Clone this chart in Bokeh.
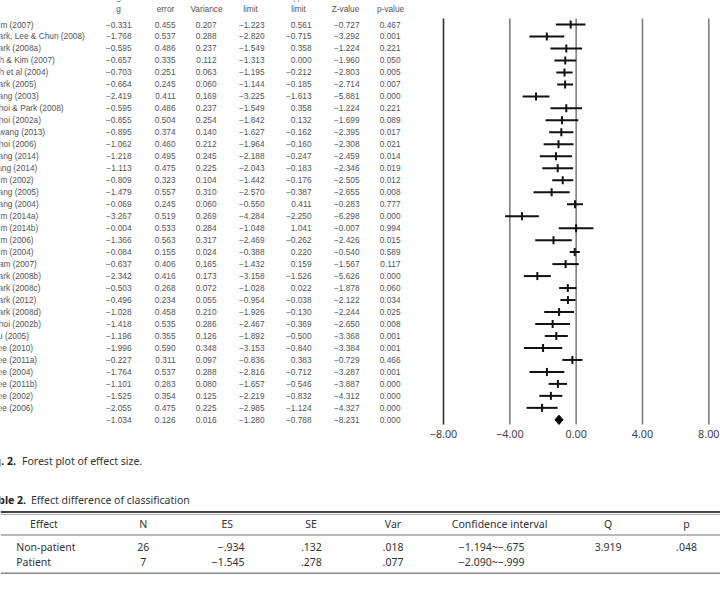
from bokeh.plotting import figure
from bokeh.models import Range1d
from bokeh.core.properties import value
from bokeh.embed import file_html
from bokeh.resources import INLINE

# ---------------- data ----------------
studies = ["Kim (2007)", "Park, Lee & Chun (2008)", "Park (2008a)", "Oh & Kim (2007)",
           "Oh et al (2004)", "Park (2005)", "Kang (2003)", "Choi & Park (2008)",
           "Choi (2002a)", "Hwang (2013)", "Choi (2006)", "Kang (2014)", "Jang (2014)",
           "Kim (2002)", "Kang (2005)", "Kang (2004)", "Kim (2014a)", "Kim (2014b)",
           "Kim (2006)", "Kim (2004)", "Nam (2007)", "Park (2008b)", "Park (2008c)",
           "Park (2012)", "Park (2008d)", "Choi (2002b)", "Yu (2005)", "Lee (2010)",
           "Lee (2011a)", "Lee (2004)", "Lee (2011b)", "Lee (2002)", "Lee (2006)"]
hedges_g = [-0.331, -1.768, -0.595, -0.657, -0.703, -0.664, -2.419, -0.595, -0.855, -0.895,
            -1.062, -1.218, -1.113, -0.809, -1.479, -0.069, -3.267, -0.004, -1.366, -0.084,
            -0.637, -2.342, -0.503, -0.496, -1.028, -1.418, -1.196, -1.996, -0.227, -1.764,
            -1.101, -1.525, -2.055]
std_err = [0.455, 0.537, 0.486, 0.335, 0.251, 0.245, 0.411, 0.486, 0.504, 0.374,
           0.460, 0.495, 0.475, 0.323, 0.557, 0.245, 0.519, 0.533, 0.563, 0.155,
           0.406, 0.416, 0.268, 0.234, 0.458, 0.535, 0.355, 0.590, 0.311, 0.537,
           0.283, 0.354, 0.475]
variance = [0.207, 0.288, 0.237, 0.112, 0.063, 0.060, 0.169, 0.237, 0.254, 0.140,
            0.212, 0.245, 0.225, 0.104, 0.310, 0.060, 0.269, 0.284, 0.317, 0.024,
            0.165, 0.173, 0.072, 0.055, 0.210, 0.286, 0.126, 0.348, 0.097, 0.288,
            0.080, 0.125, 0.225]
lower = [-1.223, -2.820, -1.549, -1.313, -1.195, -1.144, -3.225, -1.549, -1.842, -1.627,
         -1.964, -2.188, -2.043, -1.442, -2.570, -0.550, -4.284, -1.048, -2.469, -0.388,
         -1.432, -3.158, -1.028, -0.954, -1.926, -2.467, -1.892, -3.153, -0.836, -2.816,
         -1.657, -2.219, -2.985]
upper = [0.561, -0.715, 0.358, 0.000, -0.212, -0.185, -1.613, 0.358, 0.132, -0.162,
         -0.160, -0.247, -0.183, -0.176, -0.387, 0.411, -2.250, 1.041, -0.262, 0.220,
         0.159, -1.526, 0.022, -0.038, -0.130, -0.369, -0.500, -0.840, 0.383, -0.712,
         -0.546, -0.832, -1.124]
z_value = [-0.727, -3.292, -1.224, -1.960, -2.803, -2.714, -5.881, -1.224, -1.699, -2.395,
           -2.308, -2.459, -2.346, -2.505, -2.655, -0.283, -6.298, -0.007, -2.426, -0.540,
           -1.567, -5.626, -1.878, -2.122, -2.244, -2.650, -3.368, -3.384, -0.729, -3.287,
           -3.887, -4.312, -4.327]
p_value = [0.467, 0.001, 0.221, 0.050, 0.005, 0.007, 0.000, 0.221, 0.089, 0.017,
           0.021, 0.014, 0.019, 0.012, 0.008, 0.777, 0.000, 0.994, 0.015, 0.589,
           0.117, 0.000, 0.060, 0.034, 0.025, 0.008, 0.001, 0.001, 0.466, 0.001,
           0.000, 0.000, 0.000]

summary_g = -1.034
summary_se = 0.126
summary_var = 0.016
summary_lower = -1.280
summary_upper = -0.788
summary_z = -8.231
summary_p = 0.000

col_headers_top = ["Hedges's", "Standard", "", "Lower", "Upper", "", ""]
col_headers = ["g", "error", "Variance", "limit", "limit", "Z-value", "p-value"]

axis_ticks = [-8, -4, 0, 4, 8]
axis_labels = ["\u22128.00", "\u22124.00", "0.00", "4.00", "8.00"]

fig_caption_num = "Fig. 2."
fig_caption = "Forest plot of effect size."
tab_caption_num = "Table 2."
tab_caption = "Effect difference of classification"

t2_headers = ["Effect", "N", "ES", "SE", "Var", "Confidence  interval", "Q", "p"]
t2_effect = ["Non-patient", "Patient"]
t2_n = [26, 7]
t2_es = [-0.934, -1.545]
t2_se = [0.132, 0.278]
t2_var = [0.018, 0.077]
t2_ci_low = [-1.194, -2.090]
t2_ci_high = [-0.675, -0.999]
t2_q = 3.919
t2_p = 0.048

# ---------------- helpers ----------------
MINUS = "\u2212"


def f3(v):
    return f"{v:.3f}".replace("-", MINUS)


def fshort(v):
    s = f"{abs(v):.3f}"
    if s.startswith("0"):
        s = s[1:]
    return (MINUS if v < 0 else "") + s


# ---------------- figure ----------------
W, H = 720, 595
p = figure(width=W, height=H, x_range=Range1d(0, W), y_range=Range1d(H, 0),
           x_axis_type=None, y_axis_type=None, output_backend="svg",
           toolbar_location=None, min_border=0, outline_line_color=None,
           background_fill_color="white", border_fill_color="white")
p.grid.visible = False

# effect-size scale: -8 at px 443, +8 at px 708.3
px_per_unit = (708.3 - 443.0) / 16.0
es_start = -8 - 443.0 / px_per_unit
p.extra_x_ranges = {"es": Range1d(es_start, es_start + W / px_per_unit)}

row0, row_step = 24.0, 11.98
n = len(studies)
ys = [row0 + i * row_step for i in range(n)]
y_sum = row0 + n * row_step

tfont = value("Liberation Sans")
tsize = "8.3px"
tcol = "#555555"

# study names (left, partially cut by the page edge as in the reference)
p.text(x=[-7.5] * n, y=ys, text=studies, text_align="left", text_baseline="middle",
       text_font=tfont, text_font_size=tsize, text_color=tcol)

# numeric columns, right aligned
col_right = [131, 175, 216, 264, 311, 359, 400]
col_center = [118, 165, 206, 250, 298, 345, 390]
cols = [hedges_g + [summary_g], std_err + [summary_se], variance + [summary_var],
        lower + [summary_lower], upper + [summary_upper], z_value + [summary_z],
        p_value + [summary_p]]
all_y = ys + [y_sum]
for xr, vals in zip(col_right, cols):
    p.text(x=[xr] * len(vals), y=all_y, text=[f3(v) for v in vals], text_align="right",
           text_baseline="middle", text_font=tfont, text_font_size=tsize, text_color=tcol)

p.text(x=col_center, y=[8.7] * 7, text=col_headers, text_align="center",
       text_baseline="middle", text_font=tfont, text_font_size=tsize, text_color=tcol)
p.text(x=col_center, y=[-3.4] * 7, text=col_headers_top, text_align="center",
       text_baseline="middle", text_font=tfont, text_font_size=tsize, text_color=tcol)

# forest plot reference lines
p.segment(x0=axis_ticks, x1=axis_ticks, y0=[18] * 5, y1=[424] * 5, x_range_name="es",
          line_color=["#333333", "#808080", "#808080", "#808080", "#808080"], line_width=1.6)
p.text(x=axis_ticks, y=[433.5] * 5, text=axis_labels, x_range_name="es",
       text_align="center", text_baseline="middle", text_font=value("Noto Sans"),
       text_font_size="10.8px", text_color="#444444")

# CI lines and point ticks
p.segment(x0=lower, x1=upper, y0=ys, y1=ys, x_range_name="es", line_color="#111111",
          line_width=2)
p.segment(x0=hedges_g, x1=hedges_g, y0=[y - 4 for y in ys], y1=[y + 4 for y in ys],
          x_range_name="es", line_color="#111111", line_width=2)
# summary diamond
p.patch(x=[summary_lower, summary_g, summary_upper, summary_g],
        y=[y_sum, y_sum - 4.6, y_sum, y_sum + 4.6], x_range_name="es",
        fill_color="black", line_color="black", line_width=1)

# captions
cfont = value("Noto Sans")
p.text(x=[15.5], y=[460], text=[fig_caption_num], text_align="right", text_baseline="middle",
       text_font=cfont, text_font_size="10.5px", text_font_style="bold", text_color="#222222")
p.text(x=[21.5], y=[460], text=[fig_caption], text_align="left", text_baseline="middle",
       text_font=cfont, text_font_size="10.5px", text_color="#333333")
p.text(x=[25.5], y=[499.5], text=[tab_caption_num], text_align="right", text_baseline="middle",
       text_font=cfont, text_font_size="10.5px", text_font_style="bold", text_color="#222222")
p.text(x=[30.5], y=[499.5], text=[tab_caption], text_align="left", text_baseline="middle",
       text_font=cfont, text_font_size="10.5px", text_color="#333333")

# table 2 rules
p.segment(x0=[0], x1=[W], y0=[511.5], y1=[511.5], line_color="#444444", line_width=2.2)
p.segment(x0=[0], x1=[W], y0=[514], y1=[514], line_color="#999999", line_width=0.8)
p.segment(x0=[0], x1=[W], y0=[534.5], y1=[534.5], line_color="#777777", line_width=1.2)
p.segment(x0=[0], x1=[W], y0=[572.8], y1=[572.8], line_color="#888888", line_width=1.4)

t2size = "10.5px"
t2col = "#333333"
hx = [43.5, 142.7, 226.7, 310.5, 392.5, 500.5, 607.7, 686]
p.text(x=hx, y=[523.5] * 8, text=t2_headers, text_align="center", text_baseline="middle",
       text_font=cfont, text_font_size=t2size, text_color=t2col)
r_y = [546.2, 561.2]
p.text(x=[15.7, 15.7], y=r_y, text=t2_effect, text_align="left", text_baseline="middle",
       text_font=cfont, text_font_size=t2size, text_color=t2col)
p.text(x=[142.7, 142.7], y=r_y, text=[str(v) for v in t2_n], text_align="center",
       text_baseline="middle", text_font=cfont, text_font_size=t2size, text_color=t2col)
p.text(x=[244, 244], y=r_y, text=[fshort(v) for v in t2_es], text_align="right",
       text_baseline="middle", text_font=cfont, text_font_size=t2size, text_color=t2col)
p.text(x=[310.8, 310.8], y=r_y, text=[fshort(v) for v in t2_se], text_align="center",
       text_baseline="middle", text_font=cfont, text_font_size=t2size, text_color=t2col)
p.text(x=[392.5, 392.5], y=r_y, text=[fshort(v) for v in t2_var], text_align="center",
       text_baseline="middle", text_font=cfont, text_font_size=t2size, text_color=t2col)
p.text(x=[458.3, 458.3], y=r_y,
       text=[f"{fshort(a)}~{fshort(b)}" for a, b in zip(t2_ci_low, t2_ci_high)],
       text_align="left", text_baseline="middle", text_font=cfont, text_font_size=t2size,
       text_color=t2col)
p.text(x=[607.7], y=[r_y[0]], text=[f"{t2_q:.3f}"], text_align="center",
       text_baseline="middle", text_font=cfont, text_font_size=t2size, text_color=t2col)
p.text(x=[686], y=[r_y[0]], text=[fshort(t2_p)], text_align="center",
       text_baseline="middle", text_font=cfont, text_font_size=t2size, text_color=t2col)

open("out.html", "w").write(file_html(p, INLINE))
